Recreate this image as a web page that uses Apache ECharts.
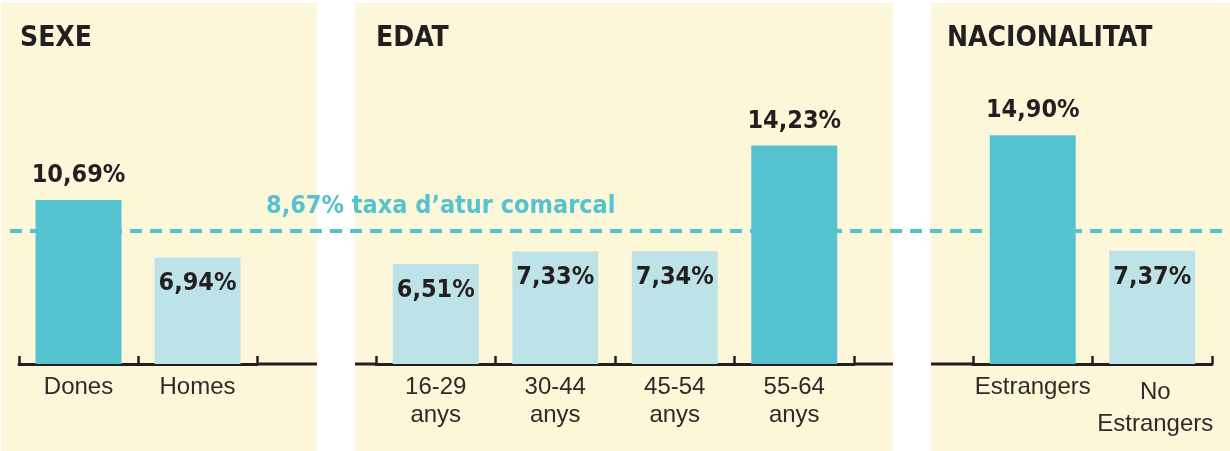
<!DOCTYPE html>
<html>
<head>
<meta charset="utf-8">
<script src="https://cdn.jsdelivr.net/npm/echarts@6/dist/echarts.min.js"></script>
<style>
html, body { margin: 0; padding: 0; background: #fff; }
#chart { width: 1230px; height: 451px; }
</style>
</head>
<body>
<div id="chart"></div>
<script>
// dades
const sexeCats = ['Dones', 'Homes']
const sexeVals = [10.69, 6.94]
const edatCats = ['16-29\nanys', '30-44\nanys', '45-54\nanys', '55-64\nanys']
const edatVals = [6.51, 7.33, 7.34, 14.23]
const nacCats = ['Estrangers', 'No\nEstrangers']
const nacVals = [14.90, 7.37]
const taxaComarcal = 8.67
const titles = ['SEXE', 'EDAT', 'NACIONALITAT']

const cream = '#FDF7DA'
const dark = '#55C3CF'
const light = '#BDE3E8'
const ink = '#231F20'
const condFont = '"Liberation Sans Narrow", "DejaVu Sans Condensed", sans-serif'
const regFont = '"Liberation Sans", Arial, sans-serif'

const fmt = v => v.toFixed(2).replace('.', ',') + '%'

const myChart = echarts.init(document.getElementById('chart'))

// barres: per sobre de la taxa comarcal -> fosc, etiqueta a sobre
const barData = vals => vals.map(v => {
    const high = v > taxaComarcal
    return {
        value: v,
        itemStyle: { color: high ? dark : light },
        label: { position: high ? 'top' : 'insideTop', distance: high ? 12 : 14 }
    }
})

const catAxis = (idx, cats) => ({
    type: 'category',
    gridIndex: idx,
    // etiquetes de dues línies amb "No" una mica més avall
    data: cats.map(c => c.startsWith('No\n') ? { value: c, textStyle: { lineHeight: 32, padding: [3, 0, 0, 6] } } : c),
    axisLine: { show: true, lineStyle: { color: ink, width: 3 } },
    axisTick: { show: true, inside: true, length: 8, lineStyle: { color: ink, width: 2.5 } },
    axisLabel: {
        color: '#2D2A28',
        fontSize: 24,
        fontFamily: regFont,
        margin: 9,
        lineHeight: 28,
        interval: 0
    }
})

const valAxis = idx => ({ type: 'value', gridIndex: idx, min: 0, max: 20, show: false })

const barSeries = (idx, vals) => ({
    type: 'bar',
    xAxisIndex: idx,
    yAxisIndex: idx,
    barWidth: 86,
    data: barData(vals),
    label: {
        show: true,
        formatter: p => fmt(p.value),
        fontSize: 25,
        fontWeight: 'bold',
        fontFamily: condFont,
        color: ink
    }
})

const axisExt = (x1, x2) => ({
    type: 'line',
    shape: { x1: x1, y1: 364, x2: x2, y2: 364 },
    style: { stroke: ink, lineWidth: 3 },
    z: 1
})

myChart.setOption({
    animation: false,
    title: titles.map((t, i) => ({
        text: t,
        left: [20, 376, 947][i],
        top: 25,
        padding: 0,
        textStyle: { fontSize: 28, fontWeight: 'bold', fontFamily: condFont, color: ink }
    })),
    graphic: [
        { type: 'rect', shape: { x: 1, y: 3, width: 316, height: 448 }, style: { fill: cream }, z: -10 },
        { type: 'rect', shape: { x: 355, y: 3, width: 538, height: 448 }, style: { fill: cream }, z: -10 },
        { type: 'rect', shape: { x: 931, y: 3, width: 299, height: 448 }, style: { fill: cream }, z: -10 },
        axisExt(257, 317),
        axisExt(355, 376),
        axisExt(854, 893),
        axisExt(931, 973)
    ],
    grid: [
        { left: 19, width: 238, top: 57, height: 307 },
        { left: 376, width: 478, top: 57, height: 307 },
        { left: 973, width: 239, top: 57, height: 307 },
        { left: 10, right: 0, top: 57, height: 307 }
    ],
    xAxis: [
        catAxis(0, sexeCats),
        catAxis(1, edatCats),
        catAxis(2, nacCats),
        { type: 'value', gridIndex: 3, min: 0, max: 1, show: false }
    ],
    yAxis: [valAxis(0), valAxis(1), valAxis(2), valAxis(3)],
    series: [
        barSeries(0, sexeVals),
        barSeries(1, edatVals),
        barSeries(2, nacVals),
        {
            type: 'line',
            xAxisIndex: 3,
            yAxisIndex: 3,
            data: [],
            z: 5,
            markLine: {
                silent: true,
                symbol: 'none',
                lineStyle: { color: dark, width: 4, type: [12, 8] },
                label: {
                    show: true,
                    position: 'insideStartTop',
                    distance: 12,
                    padding: [0, 0, 0, 244],
                    formatter: () => fmt(taxaComarcal) + ' taxa d\u2019atur comarcal',
                    fontSize: 25,
                    fontWeight: 'bold',
                    fontFamily: condFont,
                    color: dark
                },
                data: [{ yAxis: taxaComarcal }]
            }
        }
    ]
})
</script>
</body>
</html>
